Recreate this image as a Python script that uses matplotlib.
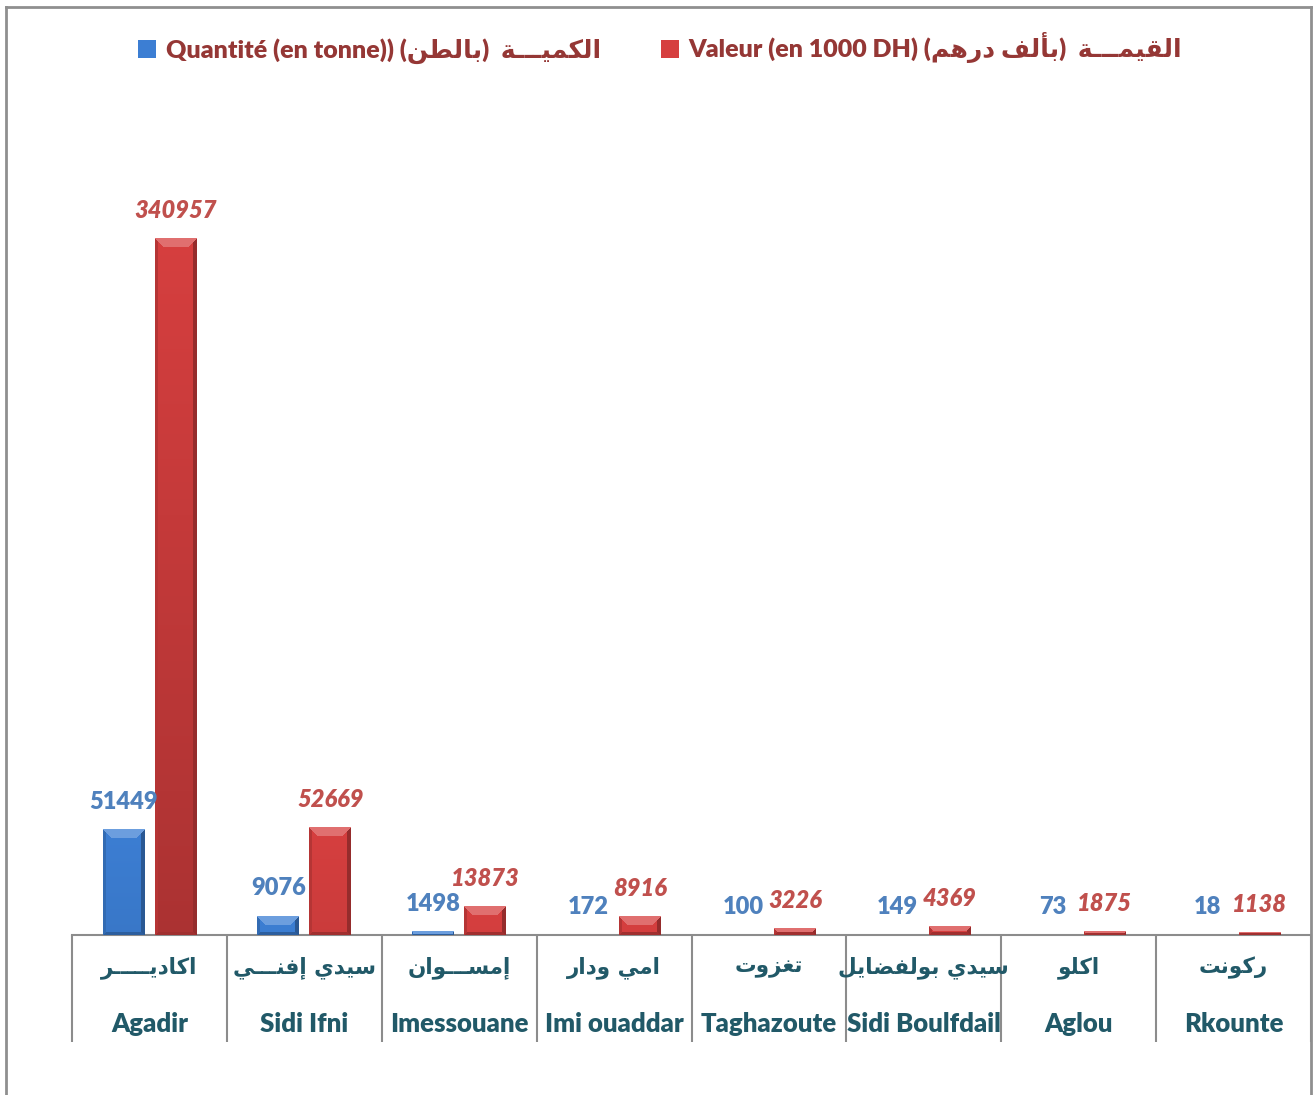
import numpy as np
import matplotlib
matplotlib.use("Agg")
import matplotlib.pyplot as plt
from matplotlib.lines import Line2D

# ---------------- data ----------------
categories_fr = ['Agadir', 'Sidi Ifni', 'Imessouane', 'Imi ouaddar',
                 'Taghazoute', 'Sidi Boulfdail', 'Aglou', 'Rkounte']
categories_ar = ['اكاديـــــر', 'سيدي إفنـــي', 'إمســـوان', 'امي ودار',
                 'تغزوت', 'سيدي بولفضايل', 'اكلو', 'ركونت']
quantite = [51449, 9076, 1498, 172, 100, 149, 73, 18]
valeur = [340957, 52669, 13873, 8916, 3226, 4369, 1875, 1138]
legend_fr = ['Quantité (en tonne))', 'Valeur (en 1000 DH)']
legend_ar_unit = ['بالطن', 'بألف درهم']
legend_ar_name = ['الكميـــة', 'القيمـــة']

# ------------- minimal Arabic shaping (logical -> visual presentation forms) -------------
FORMS = {
    'ا': (0xFE8D, 0xFE8E, None, None), 'أ': (0xFE83, 0xFE84, None, None),
    'إ': (0xFE87, 0xFE88, None, None), 'د': (0xFEA9, 0xFEAA, None, None),
    'ر': (0xFEAD, 0xFEAE, None, None), 'ز': (0xFEAF, 0xFEB0, None, None),
    'و': (0xFEED, 0xFEEE, None, None), 'ة': (0xFE93, 0xFE94, None, None),
    'ب': (0xFE8F, 0xFE90, 0xFE91, 0xFE92), 'ت': (0xFE95, 0xFE96, 0xFE97, 0xFE98),
    'س': (0xFEB1, 0xFEB2, 0xFEB3, 0xFEB4), 'ض': (0xFEBD, 0xFEBE, 0xFEBF, 0xFEC0),
    'ط': (0xFEC1, 0xFEC2, 0xFEC3, 0xFEC4), 'غ': (0xFECD, 0xFECE, 0xFECF, 0xFED0),
    'ف': (0xFED1, 0xFED2, 0xFED3, 0xFED4), 'ق': (0xFED5, 0xFED6, 0xFED7, 0xFED8),
    'ك': (0xFED9, 0xFEDA, 0xFEDB, 0xFEDC), 'ل': (0xFEDD, 0xFEDE, 0xFEDF, 0xFEE0),
    'م': (0xFEE1, 0xFEE2, 0xFEE3, 0xFEE4), 'ن': (0xFEE5, 0xFEE6, 0xFEE7, 0xFEE8),
    'ه': (0xFEE9, 0xFEEA, 0xFEEB, 0xFEEC), 'ي': (0xFEF1, 0xFEF2, 0xFEF3, 0xFEF4),
    'ـ': (0x0640, 0x0640, 0x0640, 0x0640),
}
LAMALEF = {'ا': (0xFEFB, 0xFEFC), 'أ': (0xFEF7, 0xFEF8), 'إ': (0xFEF9, 0xFEFA)}


def shape(s):
    items, i = [], 0
    while i < len(s):
        if s[i] == 'ل' and i + 1 < len(s) and s[i + 1] in LAMALEF:
            items.append(('LA', s[i + 1]))
            i += 2
        else:
            items.append(s[i])
            i += 1

    def joins_next(it):
        return (not isinstance(it, tuple)) and it in FORMS and FORMS[it][2] is not None

    def is_ar(it):
        return isinstance(it, tuple) or it in FORMS

    out = []
    for k, it in enumerate(items):
        prev = items[k - 1] if k > 0 else None
        nxt = items[k + 1] if k + 1 < len(items) else None
        cp = prev is not None and joins_next(prev)
        cn = nxt is not None and is_ar(nxt) and joins_next(it)
        if isinstance(it, tuple):
            iso, fin = LAMALEF[it[1]]
            out.append(chr(fin if cp else iso))
        elif it in FORMS:
            f = FORMS[it]
            g = f[3] if (cp and cn) else f[1] if cp else f[2] if cn else f[0]
            out.append(chr(g))
        else:
            out.append(it)
    return ''.join(reversed(out))


# ---------------- styling ----------------
W, H, DPI = 1313, 1095, 100
FONT = ['Lato', 'DejaVu Sans']
plt.rcParams['font.family'] = FONT
WT = 'heavy'
BLUE, RED = '#3C7ED3', '#D63F3F'
BLUE_TXT, RED_TXT = '#4F81BD', '#C0504D'
TEAL = '#215968'
LEG_TXT = '#953735'
GRID = '#8C8C8C'

fig = plt.figure(figsize=(W / DPI, H / DPI), dpi=DPI)
ax_left, ax_right, ax_base, ax_top = 72, 1311, 935, 95
ax = fig.add_axes([ax_left / W, (H - ax_base) / H,
                   (ax_right - ax_left) / W, (ax_base - ax_top) / H])

x = np.arange(len(categories_fr))
bw = 0.27
off = 0.168
ymax = max(valeur) * (ax_base - ax_top) / 697.0
ax.set_xlim(-0.5, len(x) - 0.5)
ax.set_ylim(0, ymax)

b1 = ax.bar(x - off, quantite, bw, color=BLUE, zorder=2)
b2 = ax.bar(x + off, valeur, bw, color=RED, zorder=2)


def bevel(rect, base):
    base = np.array(matplotlib.colors.to_rgb(base))
    (x0, y0), (x1, y1) = ax.transData.transform(
        [(rect.get_x(), 0), (rect.get_x() + rect.get_width(), rect.get_height())])
    w = max(int(round(x1 - x0)), 2)
    h = max(int(round(y1 - y0)), 1)
    rr, cc = np.mgrid[0:h, 0:w].astype(float)
    d = min(9.0, h / 2.0, w / 2.0)
    vert = 1.0 - 0.2 * (rr / max(h - 1, 1)) * min(h / 400.0, 1.0)
    img = base[None, None, :] * vert[..., None]
    dt, db, dl, dr = rr, h - 1 - rr, cc, w - 1 - cc
    m = np.minimum(np.minimum(dt, db), np.minimum(dl, dr))
    light = base + (1 - base) * 0.25
    top = (dt == m) & (dt < d)
    left = (dl == m) & (dl < min(d, 3)) & ~top
    right = (dr == m) & (dr < min(d, 4)) & ~top
    bot = (db == m) & (db < min(d, 3)) & ~top & ~left & ~right
    img[top] = light
    img[left] = base * 0.85
    img[right] = base * 0.7
    img[bot] = base * 0.75
    img = np.clip(img, 0, 1)
    ax.imshow(img, extent=(rect.get_x(), rect.get_x() + rect.get_width(), 0,
                           rect.get_height()),
              aspect='auto', zorder=3, interpolation='nearest', origin='upper')


for r in b1:
    if r.get_height() * (ax_base - ax_top) / ymax >= 0.5:
        bevel(r, BLUE)
for r in b2:
    bevel(r, RED)
ax.set_xlim(-0.5, len(x) - 0.5)
ax.set_ylim(0, ymax)

# data labels
for r, v in zip(b1, quantite):
    ax.annotate(f'{v}', (r.get_x() + r.get_width() / 2, r.get_height()),
                xytext=(0, 28), textcoords='offset pixels', ha='center', va='center',
                fontsize=17, fontweight=WT, color=BLUE_TXT, zorder=5)
for r, v in zip(b2, valeur):
    ax.annotate(f'{v}', (r.get_x() + r.get_width() / 2, r.get_height()),
                xytext=(0, 28), textcoords='offset pixels', ha='center', va='center',
                fontsize=17, fontweight=WT, fontstyle='italic', color=RED_TXT,
                zorder=5)

# axes styling
for s in ['top', 'right', 'left']:
    ax.spines[s].set_visible(False)
ax.spines['bottom'].set_color(GRID)
ax.spines['bottom'].set_linewidth(1.5)
ax.set_yticks([])
ax.set_xticks(np.arange(-0.5, len(x) + 0.5, 1.0))
ax.set_xticklabels([])
ax.tick_params(axis='x', length=107 * 72 / DPI, width=1.5, color=GRID, direction='out')

tr = ax.get_xaxis_transform()
for xi, ar, fr in zip(x, categories_ar, categories_fr):
    ax.text(xi, -(968 - ax_base) / (ax_base - ax_top), shape(ar), transform=tr,
            ha='center', va='center', fontsize=15.5, fontweight='bold', color=TEAL,
            family=['DejaVu Sans'])
    ax.text(xi, -(1024 - ax_base) / (ax_base - ax_top), fr, transform=tr,
            ha='center', va='center', fontsize=18.5, fontweight=WT, color=TEAL)

# legend
labels = [f'{fr} ({shape(u)})  {shape(n)}'
          for fr, u, n in zip(legend_fr, legend_ar_unit, legend_ar_name)]
leg = fig.legend([b1[0], b2[0]], labels, loc='center', ncol=2,
                 bbox_to_anchor=(660 / W, 1 - 48 / H), frameon=False,
                 prop={'family': FONT, 'weight': WT, 'size': 18},
                 handlelength=0.72, handleheight=0.72, handletextpad=0.4,
                 columnspacing=2.4, labelcolor=LEG_TXT)

# outer border
bc = '#8F8F8F'
fig.add_artist(Line2D([6 / W, 6 / W], [0, 1 - 7 / H], color=bc, lw=2))
fig.add_artist(Line2D([6 / W, 1311 / W], [1 - 7 / H, 1 - 7 / H], color=bc, lw=2))
fig.add_artist(Line2D([1311 / W, 1311 / W], [0, 1 - 7 / H], color=bc, lw=2))

fig.savefig('out.png', dpi=DPI, facecolor='white')
